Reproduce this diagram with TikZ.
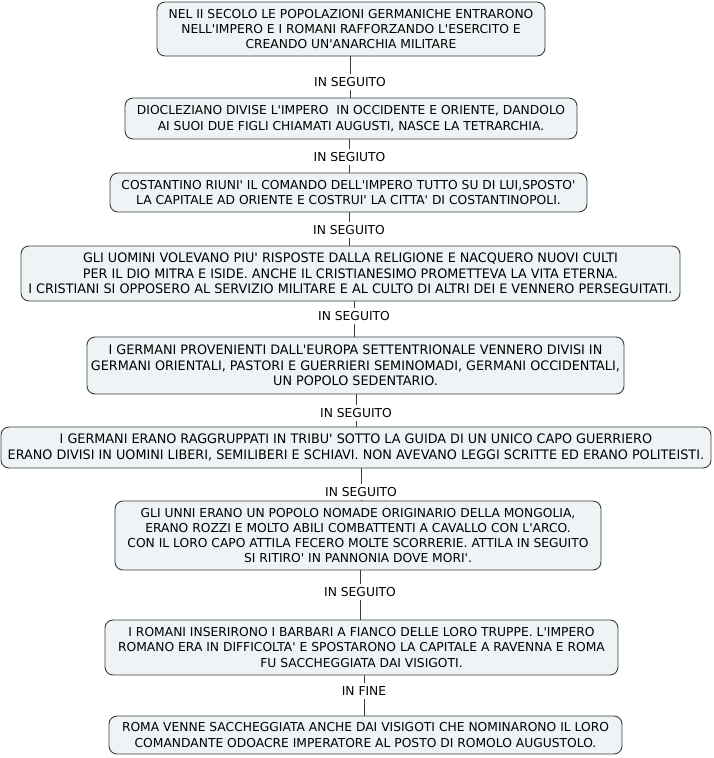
\documentclass[tikz,border=0pt]{standalone}
\usepackage{fontspec}
\newfontfamily\vf{DejaVu Sans}
\newfontfamily\vfc[FakeStretch=1.09]{DejaVu Sans Condensed}
\definecolor{boxfill}{RGB}{238,244,246}
\definecolor{boxdraw}{RGB}{60,60,60}
\tikzset{
  box/.style={draw=boxdraw, fill=boxfill, line width=0.9pt, rounded corners=8pt, inner sep=0pt, align=center,
    font=\vf\fontsize{12.3}{15.3}\selectfont},
  cbox/.style={box, font=\vfc\fontsize{13.05}{15.3}\selectfont},
  lbl/.style={inner sep=0pt, minimum height=16pt, font=\vf\fontsize{12.3}{15.3}\selectfont},
  conn/.style={draw=boxdraw, line width=0.8pt},
}
\begin{document}
\begin{tikzpicture}[x=1pt,y=-1pt]
\useasboundingbox (0,0) rectangle (713,758);
\node[box, minimum width=388, minimum height=54] (b1) at (351,29)
 {NEL II SECOLO LE POPOLAZIONI GERMANICHE ENTRARONO\\NELL'IMPERO E I ROMANI RAFFORZANDO L'ESERCITO E\\CREANDO UN'ANARCHIA MILITARE};
\node[box, minimum width=452, minimum height=41] (b2) at (351,118.5)
 {DIOCLEZIANO DIVISE L'IMPERO~ IN OCCIDENTE E ORIENTE, DANDOLO\\AI SUOI DUE FIGLI CHIAMATI AUGUSTI, NASCE LA TETRARCHIA.};
\node[box, minimum width=477, minimum height=39] (b3) at (348.5,192.5)
 {COSTANTINO RIUNI' IL COMANDO DELL'IMPERO TUTTO SU DI LUI,SPOSTO'\\LA CAPITALE AD ORIENTE E COSTRUI' LA CITTA' DI COSTANTINOPOLI.};
\node[cbox, minimum width=659, minimum height=55] (b4) at (350.5,273.5)
 {GLI UOMINI VOLEVANO PIU' RISPOSTE DALLA RELIGIONE E NACQUERO NUOVI CULTI\\PER IL DIO MITRA E ISIDE. ANCHE IL CRISTIANESIMO PROMETTEVA LA VITA ETERNA.\\I CRISTIANI SI OPPOSERO AL SERVIZIO MILITARE E AL CULTO DI ALTRI DEI E VENNERO PERSEGUITATI.};
\node[cbox, minimum width=537, minimum height=57] (b5) at (355.5,365.5)
 {I GERMANI PROVENIENTI DALL'EUROPA SETTENTRIONALE VENNERO DIVISI IN\\GERMANI ORIENTALI, PASTORI E GUERRIERI SEMINOMADI, GERMANI OCCIDENTALI,\\UN POPOLO SEDENTARIO.};
\node[cbox, minimum width=710, minimum height=41] (b6) at (356,447.5)
 {I GERMANI ERANO RAGGRUPPATI IN TRIBU' SOTTO LA GUIDA DI UN UNICO CAPO GUERRIERO\\ERANO DIVISI IN UOMINI LIBERI, SEMILIBERI E SCHIAVI. NON AVEVANO LEGGI SCRITTE ED ERANO POLITEISTI.};
\node[box, minimum width=486, minimum height=69] (b7) at (358,535.5)
 {GLI UNNI ERANO UN POPOLO NOMADE ORIGINARIO DELLA MONGOLIA,\\ERANO ROZZI E MOLTO ABILI COMBATTENTI A CAVALLO CON L'ARCO.\\CON IL LORO CAPO ATTILA FECERO MOLTE SCORRERIE. ATTILA IN SEGUITO\\SI RITIRO' IN PANNONIA DOVE MORI'.};
\node[box, minimum width=513, minimum height=55] (b8) at (361.5,647.5)
 {I ROMANI INSERIRONO I BARBARI A FIANCO DELLE LORO TRUPPE. L'IMPERO\\ROMANO ERA IN DIFFICOLTA' E SPOSTARONO LA CAPITALE A RAVENNA E ROMA\\FU SACCHEGGIATA DAI VISIGOTI.};
\node[box, minimum width=513, minimum height=38] (b9) at (365.5,735)
 {ROMA VENNE SACCHEGGIATA ANCHE DAI VISIGOTI CHE NOMINARONO IL LORO\\COMANDANTE ODOACRE IMPERATORE AL POSTO DI ROMOLO AUGUSTOLO.};
\node[lbl] (l1) at (350,82) {IN SEGUITO};
\node[lbl] (l2) at (349.5,157) {IN SEGIUTO};
\node[lbl] (l3) at (349,230) {IN SEGUITO};
\node[lbl] (l4) at (354,316) {IN SEGUITO};
\node[lbl] (l5) at (356,413) {IN SEGUITO};
\node[lbl] (l6) at (361,492) {IN SEGUITO};
\node[lbl] (l7) at (360,592) {IN SEGUITO};
\node[lbl] (l8) at (364,691) {IN FINE};
\foreach \a/\l/\b in {b1/l1/b2, b2/l2/b3, b3/l3/b4, b4/l4/b5, b5/l5/b6, b6/l6/b7, b7/l7/b8, b8/l8/b9} {
  \draw[conn] (\l.north) -- (\l.north |- \a.south);
  \draw[conn] (\l.south) -- (\l.south |- \b.north);
}
\end{tikzpicture}
\end{document}
